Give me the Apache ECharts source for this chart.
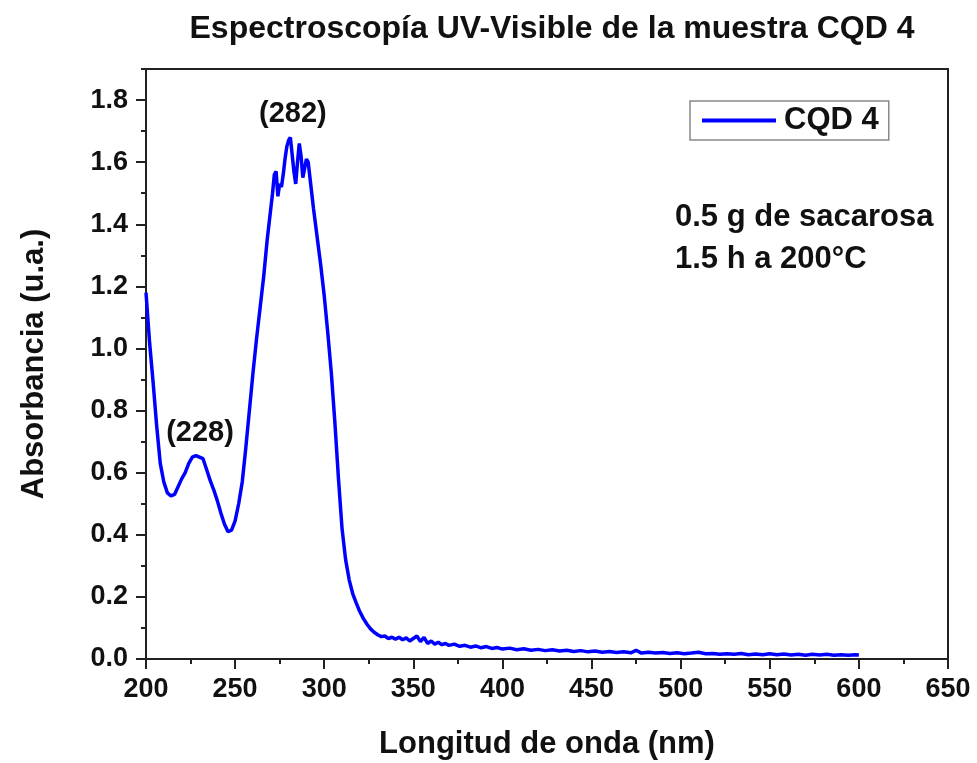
<!DOCTYPE html>
<html>
<head>
<meta charset="utf-8">
<script src="https://cdn.jsdelivr.net/npm/echarts@6/dist/echarts.min.js"></script>
<style>
  html, body { margin: 0; padding: 0; background: #fff; }
  #chart { width: 977px; height: 763px; }
</style>
</head>
<body>
<div id="chart"></div>
<script>
// UV-Vis absorbance spectrum of sample CQD 4
const wavelength = [
  200, 202, 204, 206, 208, 210, 212, 214, 216, 218,
  220, 222, 224, 226, 228, 230, 232, 234, 236, 238,
  240, 242, 244, 246, 248, 250, 252, 254, 256, 258,
  260, 262, 264, 266, 268, 270, 271, 272, 273, 274,
  275, 276, 277, 278, 279, 280, 281, 282, 283, 284,
  285, 286, 287, 288, 289, 290, 291, 292, 294, 296,
  298, 300, 302, 304, 306, 308, 310, 312, 314, 316,
  318, 320, 322, 324, 326, 328, 330, 332, 334, 336,
  338, 340, 342, 344, 346, 348, 350, 352, 354, 356,
  358, 360, 362, 364, 366, 368, 370, 373, 376, 379,
  382, 385, 388, 391, 394, 397, 400, 404, 408, 412,
  416, 420, 424, 428, 432, 436, 440, 444, 448, 452,
  456, 460, 464, 468, 472, 475, 478, 482, 486, 490,
  494, 498, 502, 506, 510, 514, 518, 522, 526, 530,
  534, 538, 542, 546, 550, 554, 558, 562, 566, 570,
  574, 578, 582, 586, 590, 594, 598, 600
];
const absorbance = [
  1.18, 1.02, 0.89, 0.75, 0.63, 0.57, 0.535, 0.525, 0.53, 0.555,
  0.58, 0.60, 0.63, 0.65, 0.655, 0.65, 0.645, 0.61, 0.575, 0.545,
  0.51, 0.47, 0.435, 0.41, 0.415, 0.445, 0.50, 0.57, 0.68, 0.80,
  0.92, 1.03, 1.13, 1.23, 1.35, 1.45, 1.50, 1.56, 1.57, 1.49,
  1.53, 1.52, 1.56, 1.61, 1.65, 1.67, 1.68, 1.68, 1.57, 1.53,
  1.60, 1.66, 1.62, 1.55, 1.58, 1.61, 1.60, 1.55, 1.45, 1.36,
  1.27, 1.17, 1.05, 0.92, 0.76, 0.58, 0.42, 0.32, 0.255, 0.21,
  0.18, 0.152, 0.13, 0.112, 0.097, 0.086, 0.078, 0.072, 0.074, 0.066,
  0.07, 0.064, 0.07, 0.062, 0.068, 0.058, 0.066, 0.074, 0.056, 0.07,
  0.05, 0.058, 0.048, 0.054, 0.046, 0.05, 0.044, 0.048, 0.041, 0.044,
  0.038, 0.042, 0.036, 0.04, 0.034, 0.037, 0.032, 0.035, 0.03, 0.033,
  0.028, 0.031, 0.027, 0.03, 0.026, 0.028, 0.024, 0.027, 0.023, 0.026,
  0.022, 0.024, 0.021, 0.023, 0.02, 0.028, 0.019, 0.022, 0.019, 0.021,
  0.018, 0.02, 0.017, 0.019, 0.022, 0.017, 0.018, 0.015, 0.017, 0.015,
  0.018, 0.014, 0.016, 0.014, 0.017, 0.014, 0.016, 0.013, 0.015, 0.012,
  0.015, 0.013, 0.015, 0.012, 0.014, 0.012, 0.014, 0.013
];
// Peak annotations: [wavelength, label height]
const peakLabels = [
  { name: '(282)', coord: [282.4, 1.755] },
  { name: '(228)', coord: [230.3, 0.727] }
];
const yMajorTicks = [0, 0.2, 0.4, 0.6, 0.8, 1.0, 1.2, 1.4, 1.6, 1.8];
const noteLines = ['0.5 g de sacarosa', '1.5 h a 200°C'];

const FONT = '"Liberation Sans", Arial, sans-serif';
const INK = '#111';
const AXIS = '#222';

const chart = echarts.init(document.getElementById('chart'), null, { renderer: 'canvas' });

const seriesData = wavelength.map((w, i) => [w, absorbance[i]]);

chart.setOption({
  backgroundColor: '#ffffff',
  animation: false,
  title: {
    text: 'Espectroscopía UV-Visible de la muestra CQD 4',
    left: 547,
    textAlign: 'center',
    top: 8,
    textStyle: { fontFamily: FONT, fontWeight: 'bold', fontSize: 32, color: INK }
  },
  grid: {
    left: 146, right: 29, top: 69, bottom: 104,
    outerBoundsMode: 'none',
    show: true, borderColor: AXIS, borderWidth: 2, backgroundColor: 'transparent'
  },
  legend: {
    left: 690, top: 101,
    padding: [4, 10, 4, 12],
    borderColor: '#888', borderWidth: 1.5,
    icon: 'rect', itemWidth: 74, itemHeight: 4,
    textStyle: { fontFamily: FONT, fontWeight: 'bold', fontSize: 31, color: INK, padding: [0, 0, 0, 3] },
    data: ['CQD 4']
  },
  xAxis: {
    type: 'value', min: 200, max: 650, interval: 50,
    name: 'Longitud de onda (nm)', nameLocation: 'middle', nameGap: 70,
    nameTextStyle: { fontFamily: FONT, fontWeight: 'bold', fontSize: 31, color: INK },
    axisLine: { show: true, lineStyle: { color: AXIS, width: 2 } },
    axisTick: { show: true, inside: false, length: 10, lineStyle: { color: AXIS, width: 2 } },
    minorTick: { show: true, splitNumber: 2, length: 5, lineStyle: { color: AXIS, width: 2 } },
    axisLabel: { margin: 17, fontFamily: FONT, fontWeight: 'bold', fontSize: 27, color: INK },
    splitLine: { show: false }, minorSplitLine: { show: false }
  },
  yAxis: [
    {
      type: 'value', min: 0, max: 1.9, interval: 0.2,
      name: 'Absorbancia (u.a.)', nameLocation: 'middle', nameGap: 96,
      nameTextStyle: { fontFamily: FONT, fontWeight: 'bold', fontSize: 31, color: INK },
      axisLine: { show: true, lineStyle: { color: AXIS, width: 2 } },
      axisTick: { show: true, inside: false, length: 10, customValues: yMajorTicks, lineStyle: { color: AXIS, width: 2 } },
      axisLabel: {
        margin: 18, customValues: yMajorTicks,
        fontFamily: FONT, fontWeight: 'bold', fontSize: 27, color: INK,
        formatter: v => v.toFixed(1)
      },
      splitLine: { show: false }
    },
    {
      // minor ticks every 0.1
      type: 'value', min: 0, max: 1.9, interval: 0.1, position: 'left',
      axisLine: { show: false },
      axisTick: { show: true, inside: false, length: 5, lineStyle: { color: AXIS, width: 2 } },
      axisLabel: { show: false },
      splitLine: { show: false }
    }
  ],
  series: [
    {
      name: 'CQD 4',
      type: 'line',
      xAxisIndex: 0, yAxisIndex: 0,
      data: seriesData,
      showSymbol: false,
      smooth: false,
      lineStyle: { color: '#0000ff', width: 3.5 },
      itemStyle: { color: '#0000ff' },
      markPoint: {
        symbol: 'circle', symbolSize: 1,
        itemStyle: { color: 'rgba(0,0,0,0)' },
        label: {
          show: true, position: 'inside',
          formatter: p => p.name,
          fontFamily: FONT, fontWeight: 'bold', fontSize: 29, color: INK
        },
        data: peakLabels
      }
    }
  ],
  graphic: noteLines.map((t, i) => ({
    type: 'text',
    left: 675,
    top: 202 + i * 42,
    style: { text: t, fontFamily: FONT, fontWeight: 'bold', fontSize: 31, fill: INK }
  }))
});
</script>
</body>
</html>
